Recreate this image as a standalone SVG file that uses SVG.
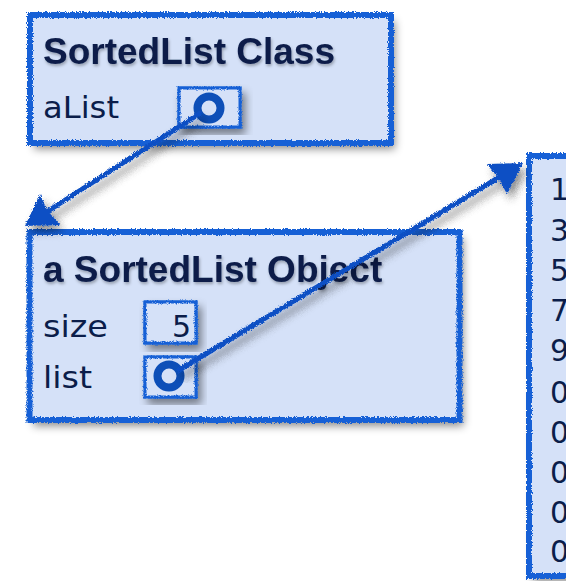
<svg xmlns="http://www.w3.org/2000/svg" width="566" height="581" viewBox="0 0 566 581">
  <defs>
    <filter id="shadow" x="-10%" y="-10%" width="130%" height="130%">
      <feDropShadow dx="4" dy="6" stdDeviation="4" flood-color="#000" flood-opacity="0.45"/>
    </filter>
    <filter id="rough" x="-5%" y="-5%" width="110%" height="110%">
      <feTurbulence type="fractalNoise" baseFrequency="1.2" numOctaves="2" seed="3" result="n"/>
      <feDisplacementMap in="SourceGraphic" in2="n" scale="4" xChannelSelector="R" yChannelSelector="G"/>
    </filter>
    <filter id="rough2" x="-20%" y="-20%" width="140%" height="140%">
      <feTurbulence type="fractalNoise" baseFrequency="1.5" numOctaves="1" seed="5" result="n"/>
      <feDisplacementMap in="SourceGraphic" in2="n" scale="1.5" xChannelSelector="R" yChannelSelector="G"/>
    </filter>
    <filter id="tshadow" x="-5%" y="-20%" width="110%" height="150%">
      <feDropShadow dx="1" dy="2" stdDeviation="1.5" flood-color="#000" flood-opacity="0.3"/>
    </filter>
  </defs>
  <style>
    .fill { fill: #d5e1f8; }
    .frame { fill: none; stroke: #1560d6; stroke-width: 6; }
    .slot { fill: #d5e1f8; stroke: #1560d6; stroke-width: 3; }
    .title { font-family: "Liberation Sans", Arial, sans-serif; font-weight: bold; font-size: 37px; fill: #0b1d4a; }
    .label { font-family: "DejaVu Sans", sans-serif; font-size: 30px; fill: #0b1d4a; }
    .digit { font-family: "DejaVu Sans", sans-serif; font-size: 30px; fill: #0b1d4a; }
    .ring { fill: none; stroke: #0e4fb8; stroke-width: 8; }
    .wire { stroke: #0c50c4; stroke-width: 5; fill: none; stroke-linecap: round; }
    .head { fill: #0c50c4; }
  </style>
  <rect width="566" height="581" fill="#ffffff"/>

  <g id="sortedlist-class">
    <rect x="30" y="15" width="361" height="128" class="fill" filter="url(#shadow)"/>
    <rect x="30" y="15" width="361" height="128" class="frame" filter="url(#rough)"/>
    <text x="43" y="64" class="title" filter="url(#tshadow)">SortedList Class</text>
    <text x="43" y="118" class="label" textLength="76" lengthAdjust="spacingAndGlyphs">aList</text>
    <rect x="179" y="88" width="61" height="39" class="slot" filter="url(#shadow)"/>
    <rect x="179" y="88" width="61" height="39" class="slot" filter="url(#rough)"/>
    <circle cx="209" cy="108" r="11.5" class="ring" filter="url(#rough2)"/>
  </g>

  <g id="sortedlist-object">
    <rect x="29.5" y="232" width="430" height="188" class="fill" filter="url(#shadow)"/>
    <rect x="29.5" y="232" width="430" height="188" class="frame" filter="url(#rough)"/>
    <text x="43" y="282" class="title" filter="url(#tshadow)">a SortedList Object</text>
    <text x="43" y="337" class="label" textLength="65" lengthAdjust="spacingAndGlyphs">size</text>
    <text x="43" y="388" class="label" textLength="49" lengthAdjust="spacingAndGlyphs">list</text>
    <rect x="145" y="302" width="51" height="41" class="slot" filter="url(#shadow)"/>
    <rect x="145" y="302" width="51" height="41" class="slot" filter="url(#rough)"/>
    <text x="191" y="337" class="label" text-anchor="end">5</text>
    <rect x="145" y="357" width="51" height="40" class="slot" filter="url(#shadow)"/>
    <rect x="145" y="357" width="51" height="40" class="slot" filter="url(#rough)"/>
    <circle cx="169" cy="376" r="11.5" class="ring" filter="url(#rough2)"/>
  </g>

  <g id="array">
    <rect x="529" y="156" width="60" height="420" class="fill" filter="url(#shadow)"/>
    <rect x="529" y="156" width="60" height="420" class="frame" filter="url(#rough)"/>
    <text class="digit" x="550" y="200">1</text>
    <text class="digit" x="550" y="241">3</text>
    <text class="digit" x="550" y="281">5</text>
    <text class="digit" x="550" y="321">7</text>
    <text class="digit" x="550" y="361">9</text>
    <text class="digit" x="550" y="403">0</text>
    <text class="digit" x="550" y="443">0</text>
    <text class="digit" x="550" y="483">0</text>
    <text class="digit" x="550" y="523">0</text>
    <text class="digit" x="550" y="562">0</text>
  </g>

  <g id="connectors" filter="url(#rough)">
    <g filter="url(#shadow)">
      <line x1="199" y1="114" x2="45" y2="213" class="wire"/>
      <polygon points="25,226 40,194 47,210 60,225" class="head"/>
      <line x1="179" y1="370" x2="503" y2="175" class="wire"/>
      <polygon points="523,163 507,194 499,179 487,164" class="head"/>
    </g>
  </g>
</svg>
